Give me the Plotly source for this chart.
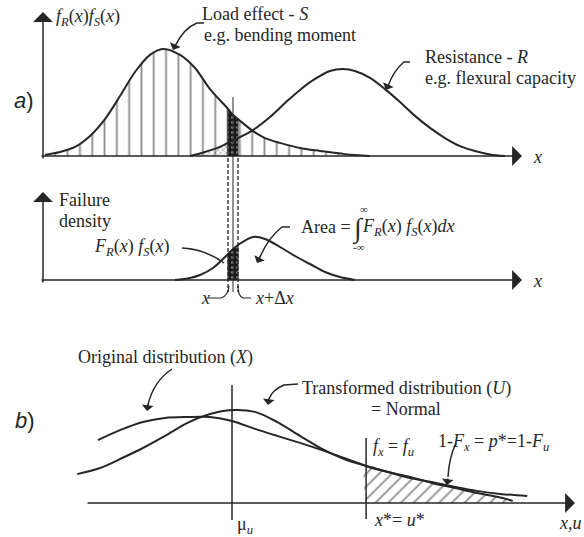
import plotly.graph_objects as go

W, H = 584, 537
INK = "#262626"
SERIF = "Liberation Serif"
SANS = "Liberation Sans"

# a) load effect S and resistance R, x in load units, values are densities
s_x = [0.1, 0.85, 1.6, 2.35, 3.1, 3.85, 4.6, 5.35, 6.0, 6.85, 7.6, 8.35,
       9.25, 9.5, 9.75, 10.5, 11.1, 11.85, 12.85, 13.85, 15.1, 16.35]
s_pdf = [0.004, 0.015, 0.034, 0.075, 0.138, 0.224, 0.314, 0.378, 0.400, 0.378, 0.329, 0.250,
         0.176, 0.153, 0.138, 0.093, 0.067, 0.049, 0.030, 0.019, 0.007, 0.0]

r_x = [7.35, 8.1, 8.85, 9.25, 9.75, 10.5, 11.35, 12.1, 12.85, 13.6, 14.35, 15.0,
       15.6, 16.35, 17.1, 17.85, 18.6, 19.35, 20.1, 20.85, 21.6, 22.35, 23.1]
r_pdf = [0.0, 0.015, 0.034, 0.049, 0.067, 0.097, 0.146, 0.198, 0.247, 0.288, 0.318, 0.325,
         0.318, 0.292, 0.250, 0.202, 0.150, 0.105, 0.067, 0.037, 0.019, 0.006, 0.0]

# failure density F_R(x) f_S(x)
fd_x = [6.6, 7.35, 7.85, 8.5, 9.25, 9.5, 9.75, 10.5, 11.1, 11.85, 12.6, 13.35, 14.1, 14.85, 15.6]
fd_pdf = [0.0, 0.01, 0.025, 0.06, 0.13, 0.155, 0.175, 0.215, 0.205, 0.165, 0.12, 0.08, 0.04, 0.015, 0.0]

# b) transformed (normal) U and original X distributions
u_x = [-3.44, -2.93, -2.44, -1.98, -1.49, -1.0, -0.49, 0.0, 0.51, 1.0, 1.51, 2.0, 2.49,
       2.98, 3.47, 3.96, 4.44, 4.96, 5.44, 5.96, 6.56]
u_pdf = [0.124, 0.150, 0.193, 0.236, 0.288, 0.343, 0.382, 0.399, 0.391, 0.348, 0.288, 0.232, 0.189,
         0.159, 0.133, 0.107, 0.090, 0.069, 0.052, 0.039, 0.030]

x_x = [-2.98, -2.49, -1.98, -1.49, -1.0, -0.49, 0.0, 0.51, 1.0, 1.51, 2.0, 2.49,
       2.98, 3.47, 3.96, 4.44, 4.96, 5.44, 5.96, 6.24]
x_pdf = [0.270, 0.313, 0.348, 0.365, 0.369, 0.369, 0.352, 0.318, 0.288, 0.258, 0.227, 0.193,
         0.159, 0.133, 0.112, 0.086, 0.064, 0.043, 0.024, 0.009]

X_LO, DX = 9.25, 0.5      # x and x + dx strip
MU_U, U_STAR = 0.0, 2.98  # mean of U and design point x* = u*


def span(origin, scale, size, down=False):
    # axis range so that value 0 sits at pixel `origin`, `scale` px per unit
    if down:
        return [(origin - size) / scale, origin / scale]
    return [-origin / scale, (size - origin) / scale]


def P(x, y):
    return x / W, 1 - y / H


annotations = []
shapes = []


def text(s, x, y, size=18, family=SERIF, anchor="left"):
    px, py = P(x, y)
    annotations.append(dict(text=s, x=px, y=py, xref="paper", yref="paper",
                            xanchor=anchor, yanchor="middle", showarrow=False,
                            font=dict(family=family, size=size, color=INK)))


def arrow(tip, tail, head=1, size=1.0, width=1.5):
    px, py = P(*tip)
    annotations.append(dict(text="", x=px, y=py, xref="paper", yref="paper",
                            ax=tail[0] - tip[0], ay=tail[1] - tip[1],
                            showarrow=True, arrowhead=head, arrowsize=size,
                            arrowwidth=width, arrowcolor=INK))


def path(cmds, width=1.5):
    out = []
    for c in cmds:
        out.append(c[0] + " " + " ".join("%.5f,%.5f" % P(*p) for p in c[1:]))
    shapes.append(dict(type="path", path=" ".join(out), xref="paper", yref="paper",
                       line=dict(color=INK, width=width)))


def strip(xs, ys, lo, hi):
    sx = [x for x in xs if lo <= x <= hi]
    sy = [y for x, y in zip(xs, ys) if lo <= x <= hi]
    return [sx[0]] + sx + [sx[-1]], [0] + sy + [0]


fig = go.Figure()
line = dict(color=INK, width=2, shape="spline", smoothing=0.9)

# panel a
fig.add_trace(go.Scatter(x=s_x, y=s_pdf, mode="lines", line=line, fill="tozeroy",
                         fillcolor="rgba(0,0,0,0)",
                         fillpattern=dict(shape="|", size=12.3, solidity=0.15,
                                          fgcolor="#1e1e1e", bgcolor="rgba(0,0,0,0)"),
                         xaxis="x", yaxis="y"))
rx, ry = strip(r_x, r_pdf, 7.35, X_LO)
fig.add_trace(go.Scatter(x=rx, y=ry, mode="lines", line=dict(width=0, shape="spline"),
                         fill="toself", fillcolor="rgba(0,0,0,0)",
                         fillpattern=dict(shape="x", size=4, solidity=0.35, fgcolor="#555",
                                          bgcolor="rgba(0,0,0,0)"),
                         xaxis="x", yaxis="y"))
sx, sy = strip(s_x, s_pdf, X_LO, X_LO + DX)
fig.add_trace(go.Scatter(x=sx, y=sy, mode="lines", line=dict(width=1, color=INK),
                         fill="toself", fillcolor="#1a1a1a",
                         fillpattern=dict(shape=".", size=5, solidity=0.25, fgcolor="white",
                                          bgcolor="#1a1a1a"),
                         xaxis="x", yaxis="y"))
fig.add_trace(go.Scatter(x=r_x, y=r_pdf, mode="lines", line=line, xaxis="x", yaxis="y"))

# failure density
fx, fy = strip(fd_x, fd_pdf, X_LO, X_LO + DX)
fig.add_trace(go.Scatter(x=fx, y=fy, mode="lines", line=dict(width=1, color=INK),
                         fill="toself", fillcolor="#1a1a1a",
                         fillpattern=dict(shape=".", size=5, solidity=0.25, fgcolor="white",
                                          bgcolor="#1a1a1a"),
                         xaxis="x", yaxis="y2"))
fig.add_trace(go.Scatter(x=fd_x, y=fd_pdf, mode="lines", line=line, xaxis="x", yaxis="y2"))

# panel b
hx, hy = strip(x_x, x_pdf, U_STAR, 99)
fig.add_trace(go.Scatter(x=hx, y=hy, mode="lines", line=dict(width=0, shape="spline"),
                         fill="toself", fillcolor="rgba(0,0,0,0)",
                         fillpattern=dict(shape="/", size=9, solidity=0.2, fgcolor="#1e1e1e",
                                          bgcolor="rgba(0,0,0,0)"),
                         xaxis="x2", yaxis="y3"))
fig.add_trace(go.Scatter(x=x_x, y=x_pdf, mode="lines", line=line, xaxis="x2", yaxis="y3"))
fig.add_trace(go.Scatter(x=u_x, y=u_pdf, mode="lines", line=line, xaxis="x2", yaxis="y3"))

# axes with arrows
arrow((522, 156), (40, 156), size=2.2, width=1.5)
arrow((43, 12), (43, 160), size=2.2, width=1.5)
arrow((522, 280), (40, 280), size=2.2, width=1.5)
arrow((43, 192), (43, 284), size=2.2, width=1.5)
arrow((575, 503), (86, 503), size=2.2, width=1.5)

# x and x+dx strip markers
for xv in (X_LO, X_LO + DX):
    shapes.append(dict(type="line", xref="x", yref="paper", x0=xv, x1=xv,
                       y0=P(0, 158)[1], y1=P(0, 292)[1],
                       line=dict(color=INK, width=1.3, dash="4px,2px")))
shapes.append(dict(type="line", xref="x", yref="paper", x0=X_LO + DX / 2, x1=X_LO + DX / 2,
                   y0=P(0, 97)[1], y1=P(0, 292)[1], line=dict(color=INK, width=1)))

# mu_u and x* verticals
shapes.append(dict(type="line", xref="x2", yref="paper", x0=MU_U, x1=MU_U,
                   y0=P(0, 385)[1], y1=P(0, 520)[1], line=dict(color=INK, width=1.5)))
shapes.append(dict(type="line", xref="x2", yref="paper", x0=U_STAR, x1=U_STAR,
                   y0=P(0, 438)[1], y1=P(0, 519)[1], line=dict(color=INK, width=1.5)))

# leaders
path([("M", (204, 23)), ("L", (197, 23)), ("Q", (184, 28), (175, 46))])
arrow((173, 50), (176, 43), size=1.3)
path([("M", (410, 62)), ("L", (404, 62)), ("Q", (394, 70), (388, 86))])
arrow((386, 90), (389, 83), size=1.3)
path([("M", (182, 248)), ("Q", (205, 249), (224, 263))])
path([("M", (290, 227)), ("L", (282, 227)), ("Q", (268, 238), (260, 257))])
arrow((257, 263), (261, 255), size=1.3)
path([("M", (208, 298)), ("L", (221, 298)), ("Q", (228, 296), (229, 286))], width=1.2)
path([("M", (251, 298)), ("L", (243, 298)), ("Q", (238, 296), (238, 286))], width=1.2)
path([("M", (172, 369)), ("Q", (153, 382), (148, 405))])
arrow((147, 411), (148, 403), size=1.3)
path([("M", (298, 384)), ("L", (284, 385)), ("Q", (272, 390), (269, 399))])
arrow((268, 405), (269, 397), size=1.3)
path([("M", (456, 443)), ("Q", (449, 458), (448, 477))])
arrow((447, 485), (448, 477), size=1.3)

# texts
text("<i>a</i>)", 12, 100, size=22, family=SANS)
text("<i>b</i>)", 13, 420, size=22, family=SANS)
text("<i>f<sub>R</sub></i>(<i>x</i>)<i>f<sub>S</sub></i>(<i>x</i>)", 54, 17)
text("Load effect - <i>S</i>", 200, 14)
text("e.g. bending moment", 202, 35)
text("Resistance - <i>R</i>", 423, 57)
text("e.g. flexural capacity", 423, 78)
text("<i>x</i>", 531, 157)
text("Failure", 57, 200)
text("density", 57, 221)
text("<i>F<sub>R</sub></i>(<i>x</i>) <i>f<sub>S</sub></i>(<i>x</i>)", 92, 247)
text("Area =", 299, 227)
text("∫", 350, 229, size=27)
text("∞", 358, 209, size=11)
text("-∞", 351, 247, size=11)
text("<i>F<sub>R</sub></i>(<i>x</i>) <i>f<sub>S</sub></i>(<i>x</i>)<i>dx</i>", 360, 227)
text("<i>x</i>", 199, 298)
text("<i>x</i>+Δ<i>x</i>", 253, 298)
text("<i>x</i>", 531, 281)
text("Original distribution (<i>X</i>)", 76, 357)
text("Transformed distribution (<i>U</i>)", 300, 388)
text("= Normal", 369, 409)
text("<i>f<sub>x</sub></i> = <i>f<sub>u</sub></i>", 371, 447)
text("1-<i>F<sub>x</sub></i> = <i>p</i>*=1-<i>F<sub>u</sub></i>", 436, 442)
text("μ<sub><i>u</i></sub>", 235, 525)
text("<i>x</i>*= <i>u</i>*", 372, 520)
text("<i>x,u</i>", 557, 523)

hidden = dict(visible=False, fixedrange=True)
fig.update_layout(
    width=W, height=H,
    margin=dict(l=0, r=0, t=0, b=0),
    paper_bgcolor="white", plot_bgcolor="white",
    showlegend=False,
    xaxis=dict(range=span(43, 20, W), **hidden),
    xaxis2=dict(range=span(232, 45, W), overlaying="x", anchor="y3", **hidden),
    yaxis=dict(range=span(156, 267.5, H, down=True), **hidden),
    yaxis2=dict(range=span(280, 200, H, down=True), overlaying="y", anchor="x", **hidden),
    yaxis3=dict(range=span(503, 233, H, down=True), overlaying="y", anchor="x2", **hidden),
    annotations=annotations,
    shapes=shapes,
)

# page body has a default 8px margin; drop it so the figure sits at the corner
fig.write_html("out.html", config={"displayModeBar": False},
               post_script="document.body.style.margin='0';")
